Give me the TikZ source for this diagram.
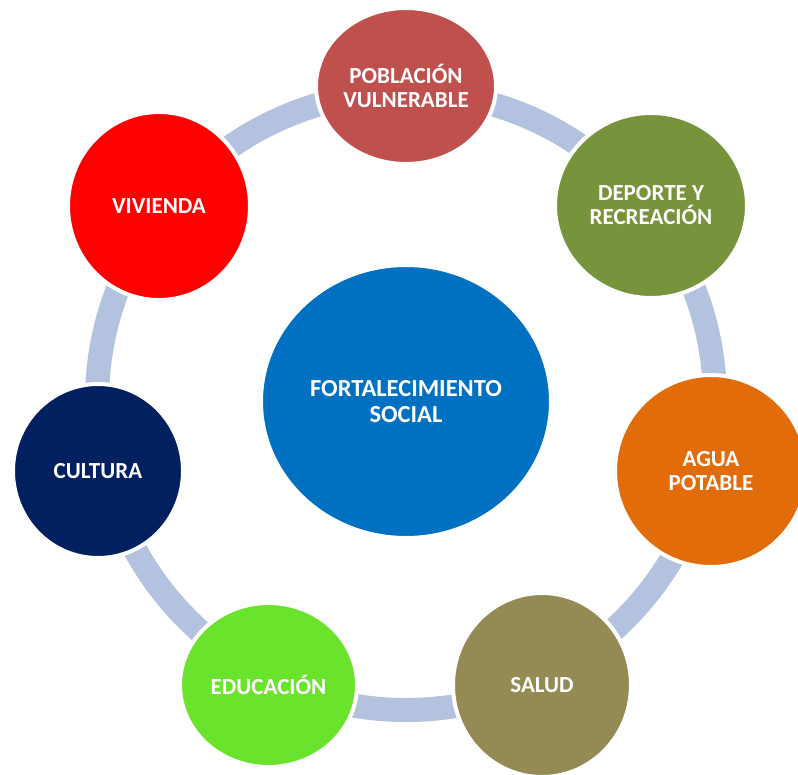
\documentclass[tikz,border=0pt]{standalone}
\usepackage{fontspec}
\setmainfont{Carlito}
\usetikzlibrary{shapes.geometric}
\definecolor{ringc}{HTML}{B3C2DE}
\definecolor{cPob}{HTML}{C0504D}
\definecolor{cDep}{HTML}{77933C}
\definecolor{cAgua}{HTML}{E36C0A}
\definecolor{cSal}{HTML}{948A54}
\definecolor{cEdu}{HTML}{6AE32C}
\definecolor{cCul}{HTML}{002060}
\definecolor{cViv}{HTML}{FF0000}
\definecolor{cCen}{HTML}{0070C0}
\tikzset{
  bubble/.style={ellipse, draw=white, line width=4pt, inner sep=0pt,
    text=white, align=center,
    font=\fontsize{23}{24}\selectfont\bfseries},
}
\begin{document}
\begin{tikzpicture}[x=1pt,y=-1pt]
\useasboundingbox (0,0) rectangle (798,774);
\clip (0,0) rectangle (798,774);
\draw[ringc, line width=24pt] (406,401) circle[radius=309];
\node[bubble, fill=cCen, minimum width=290pt, minimum height=273pt,
  font=\fontsize{24.5}{26}\selectfont\bfseries] (center) at (406,401.5) {FORTALECIMIENTO\\SOCIAL};
\node[bubble, fill=cPob, minimum width=180pt, minimum height=156pt] (pob) at (406,86) {POBLACIÓN\\VULNERABLE};
\node[bubble, fill=cDep, minimum width=192pt, minimum height=185pt] (dep) at (651,205.5) {DEPORTE Y\\RECREACIÓN};
\node[bubble, fill=cAgua, minimum width=192pt, minimum height=192pt] (agua) at (711,471) {AGUA\\POTABLE};
\node[bubble, fill=cSal, minimum width=178pt, minimum height=184pt] (salud) at (542,685) {SALUD};
\node[bubble, fill=cEdu, minimum width=177pt, minimum height=164pt] (edu) at (268.5,685) {EDUCACIÓN};
\node[bubble, fill=cCul, minimum width=170pt, minimum height=174pt] (cul) at (98,471) {CULTURA};
\node[bubble, fill=cViv, minimum width=182pt, minimum height=188pt] (viv) at (159,206) {VIVIENDA};
\end{tikzpicture}
\end{document}
